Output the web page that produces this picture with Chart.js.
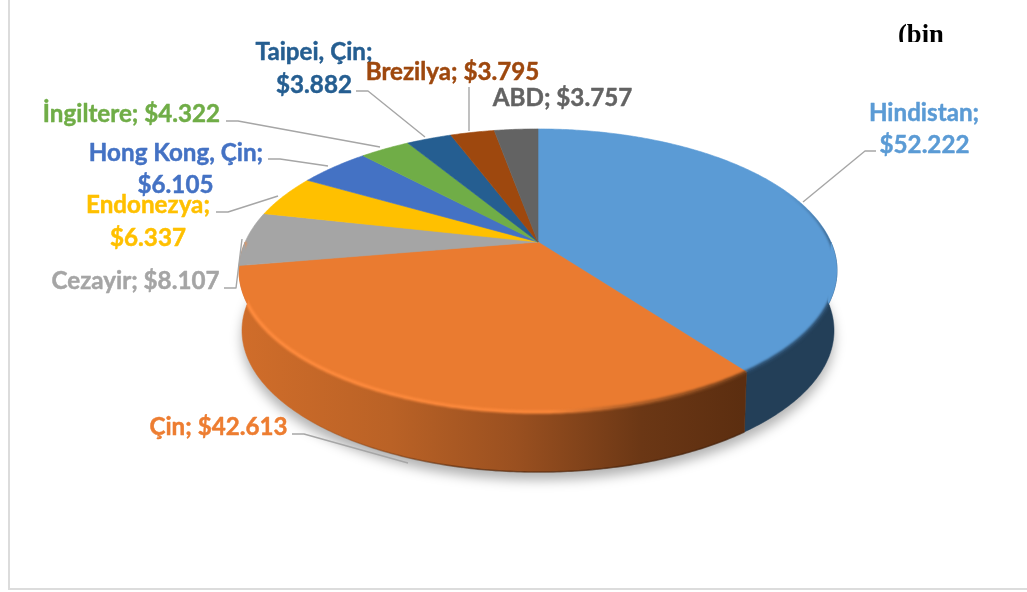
<!DOCTYPE html>
<html><head><meta charset="utf-8">
<style>html,body{margin:0;padding:0;background:#fff}canvas{display:block}</style>
<script src="https://cdn.jsdelivr.net/npm/chart.js@4"></script>
</head><body>
<canvas id="c" width="1027" height="592"></canvas>
<script>
const categories=["Hindistan","Çin","Cezayir","Endonezya","Hong Kong, Çin","İngiltere","Taipei, Çin","Brezilya","ABD"];
const seriesValues=[52222,42613,8107,6337,6105,4322,3882,3795,3757];
const sliceColors=["#5b9bd5","#ed7d31","#a5a5a5","#ffc000","#4472c4","#70ad47","#255e91","#9e480e","#636363"];
const cornerText="(bin";

const fmt=v=>"$"+String(v).replace(/\B(?=(\d{3})+$)/g,".");
// layout of labels: lines are [centre x, baseline y]; split = category and value on separate lines
const labelLayout=[
 {split:true, at:[[924,121],[924.5,153]], lead:[[876,151],[865,151],[803,202]]},
 {split:false,at:[[218.5,435]], lead:[[292,434],[304,434],[408,463]]},
 {split:false,at:[[135.5,289]], lead:[[224,288],[236,288],[242,239]]},
 {split:true, at:[[148,213],[148,246]], lead:[[216,212],[228,212],[278,196]]},
 {split:true, at:[[176,161],[175.5,193]], lead:[[268,159],[280,159],[328,166]]},
 {split:false,at:[[131.5,122]], lead:[[226,121],[238,121],[380,147]]},
 {split:true, at:[[314,60],[314,93]], lead:[[356,91],[368,91],[425,137]]},
 {split:false,at:[[452.5,80]], lead:[[469,87],[469,131]]},
 {split:false,at:[[562.5,106]], lead:[]}
];
const K=-0.2013, SX=1.2103, SY=0.5612, DEPTH=60, BX=0.99;
const LABEL_FONT="700 24.2px Lato";

const pie3d={
 id:"pie3d",
 beforeDraw(chart){
  const c=chart.ctx;
  c.save();c.fillStyle="#fff";c.fillRect(0,0,1027,592);
  c.fillStyle="#dcdcdc";c.fillRect(8,0,2,590);c.fillRect(8,588,1019,2);
  c.restore();
 },
 beforeDatasetsDraw(chart){
  const c=chart.ctx, arcs=chart.getDatasetMeta(0).data;
  const a0=arcs[0], cx=a0.x, cy=a0.y, A=a0.outerRadius*SX, B=a0.outerRadius*SY;
  const P=a=>{const w=1+K*Math.sin(a);return [cx+A*Math.cos(a)/w, cy+B*Math.sin(a)/w];};
  const Q=a=>{const p=P(a);return [cx+(p[0]-cx)*BX,p[1]+DEPTH];};
  const trace=(f,s,e,first)=>{const n=Math.max(2,Math.ceil(Math.abs(e-s)/0.01));
    for(let i=0;i<=n;i++){const p=f(s+(e-s)*i/n);(first&&i===0)?c.moveTo(p[0],p[1]):c.lineTo(p[0],p[1]);}};
  const rad=Math.PI/180;
  // soft shadow
  c.save();c.filter="blur(6px)";c.fillStyle="rgba(0,0,0,0.3)";
  c.beginPath();trace((a)=>{const q=Q(a);return [q[0],q[1]+8];},0,2*Math.PI,true);c.closePath();c.fill();c.restore();
  // walls
  const wallFront=(s,e,fill)=>{
    s=Math.max(s,0);e=Math.min(e,Math.PI);if(e<=s)return;
    c.beginPath();trace(P,s,e,true);trace(Q,e,s,false);c.closePath();
    c.fillStyle=fill;c.fill();c.strokeStyle=fill;c.lineWidth=.5;c.stroke();
  };
  const orangeGrad=c.createLinearGradient(240,0,742,0);
  orangeGrad.addColorStop(0,"#d06d2a");orangeGrad.addColorStop(.3,"#ba6226");orangeGrad.addColorStop(.55,"#9a5020");
  orangeGrad.addColorStop(.8,"#6b3715");orangeGrad.addColorStop(1,"#5c2e10");
  wallFront(0,arcs[0].endAngle,"#233f58");
  wallFront(arcs[1].startAngle,Math.PI,orangeGrad);
  // bottom edge darkening of wall, fading out towards the left
  const edge=c.createLinearGradient(300,0,742,0);
  edge.addColorStop(0,"rgba(60,28,8,0)");edge.addColorStop(.4,"rgba(60,28,8,.5)");edge.addColorStop(1,"rgba(60,28,8,.5)");
  c.save();c.filter="blur(0.6px)";c.lineWidth=1.6;c.strokeStyle=edge;
  c.beginPath();trace(Q,arcs[1].startAngle,Math.PI,true);c.stroke();c.restore();
  // top faces, using the angles computed by the pie controller
  arcs.forEach((arc,i)=>{
    const col=i===1?"#ea7b30":sliceColors[i];
    c.beginPath();c.moveTo(cx,cy);trace(P,arc.startAngle,arc.endAngle,false);c.closePath();
    c.fillStyle=col;c.fill();c.strokeStyle=col;c.lineWidth=.6;c.stroke();
  });
  // bevel along the rim
  c.save();
  c.beginPath();trace(P,-Math.PI,0,true);trace(Q,0,Math.PI,false);c.closePath();c.clip();
  const bevelO=c.createLinearGradient(240,0,742,0);
  bevelO.addColorStop(0,"#ff8b3d");bevelO.addColorStop(.62,"#fa873a");bevelO.addColorStop(.75,"#b8642a");bevelO.addColorStop(1,"#6b3a18");
  c.filter="blur(1.3px)";c.lineWidth=3.5;c.strokeStyle=bevelO;
  c.beginPath();trace(P,arcs[1].startAngle,Math.PI,true);c.stroke();
  const bevelB=c.createLinearGradient(0,190,0,300);
  bevelB.addColorStop(0,"rgba(40,70,100,0)");bevelB.addColorStop(.7,"#2c4e6e");bevelB.addColorStop(1,"#2a4a68");
  c.strokeStyle=bevelB;c.lineWidth=3.5;
  c.beginPath();trace(P,-45*rad,arcs[1].startAngle,true);c.stroke();
  c.restore();
  return false;
 },
 afterDraw(chart){
  const c=chart.ctx;
  c.save();
  // leader lines
  c.strokeStyle="#a6a6a6";c.lineWidth=1.4;c.lineJoin="round";
  labelLayout.forEach(l=>{ if(!l.lead.length)return;
    c.beginPath();l.lead.forEach((p,i)=>i?c.lineTo(p[0],p[1]):c.moveTo(p[0],p[1]));c.stroke();});
  // labels
  c.font=LABEL_FONT;c.textAlign="center";c.textBaseline="alphabetic";c.lineWidth=0.45;c.lineJoin="round";
  const put=(t,p)=>{c.fillText(t,p[0],p[1]);c.strokeText(t,p[0],p[1]);};
  labelLayout.forEach((l,i)=>{
    c.fillStyle=c.strokeStyle=sliceColors[i];
    const v=fmt(seriesValues[i]);
    if(l.split){put(categories[i]+";",l.at[0]);put(v,l.at[1]);}
    else put(categories[i]+"; "+v,l.at[0]);
  });
  // clipped corner text
  c.beginPath();c.rect(880,0,100,42);c.clip();
  c.fillStyle="#000";c.font="700 26.6px 'Liberation Serif'";c.textAlign="left";
  c.fillText(cornerText,898,43);
  c.restore();
 }
};

new Chart(document.getElementById("c"),{
 type:"pie",
 data:{labels:categories,datasets:[{data:seriesValues,backgroundColor:sliceColors,borderWidth:0}]},
 options:{responsive:false,animation:false,
  layout:{padding:{left:245,right:196,top:0,bottom:108}},
  plugins:{legend:{display:false},tooltip:{enabled:false}}},
 plugins:[pie3d]
});
</script>
</body></html>
